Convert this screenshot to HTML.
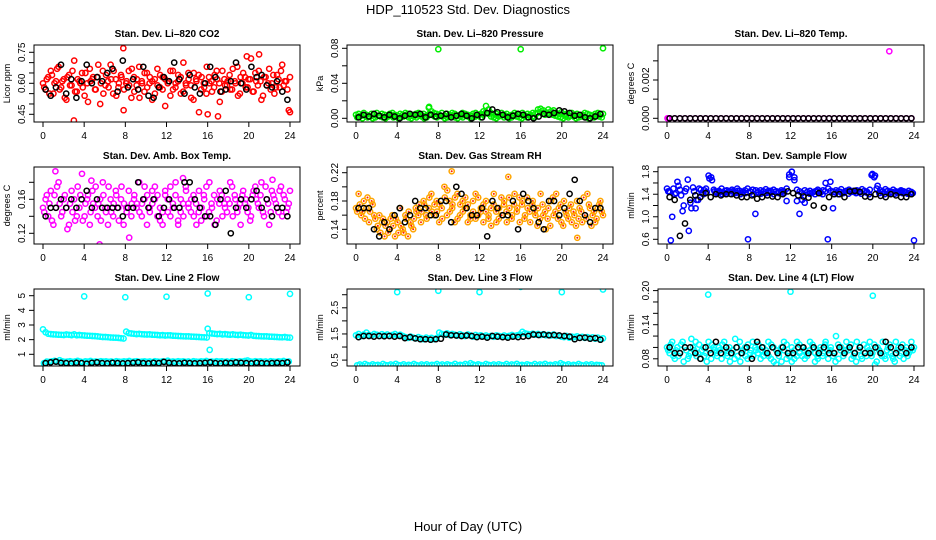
<!DOCTYPE html>
<html><head><meta charset="utf-8"><style>
body{margin:0;background:#fff;}
svg{display:block;font-family:"Liberation Sans",sans-serif;}
</style></head><body>
<svg id="chart" width="936" height="540" viewBox="0 0 936 540" xmlns="http://www.w3.org/2000/svg">
<text x="468" y="14" text-anchor="middle" font-size="13">HDP_110523  Std. Dev. Diagnostics</text>
<text x="468" y="531" text-anchor="middle" font-size="13">Hour of Day (UTC)</text>
</svg>
<script>
// ---- data ----
const xTicks = [0,4,8,12,16,20,24];
const co2Red1 = [0.60,0.57,0.63,0.66,0.55,0.61,0.68,0.58,0.62,0.52,0.64,0.59,0.71,0.56,0.61,0.65,0.54,0.60,0.67,0.62,0.57,0.63,0.50,0.66,0.59,0.61,0.69,0.55,0.62,0.58,0.64,0.47,0.60,0.66,0.53,0.63,0.59,0.68,0.61,0.56,0.65,0.60,0.52,0.62,0.67,0.58,0.63,0.49,0.61,0.66,0.57,0.60,0.64,0.55,0.70,0.59,0.62,0.53,0.65,0.61,0.46,0.63,0.58,0.68,0.60,0.56,0.64,0.62,0.51,0.66,0.59,0.61,0.57,0.67,0.60,0.54,0.63,0.65,0.58,0.62,0.72,0.56,0.61,0.66,0.52,0.63,0.59,0.67,0.60,0.55,0.64,0.58,0.69,0.61,0.57,0.63];
const co2Red2 = [0.58,0.62,0.55,0.64,0.60,0.67,0.57,0.61,0.53,0.63,0.59,0.66,0.56,0.62,0.60,0.58,0.65,0.51,0.61,0.63,0.57,0.69,0.60,0.55,0.64,0.58,0.62,0.66,0.54,0.60,0.63,0.57,0.61,0.59,0.67,0.56,0.62,0.53,0.60,0.65,0.58,0.63,0.61,0.55,0.59,0.64,0.57,0.62,0.60,0.54,0.66,0.58,0.61,0.63,0.56,0.60,0.65,0.59,0.52,0.62,0.64,0.57,0.60,0.55,0.63,0.61,0.58,0.66,0.60,0.56,0.62,0.59,0.64,0.57,0.61,0.68,0.55,0.60,0.63,0.58,0.62,0.56,0.65,0.59,0.61,0.54,0.63,0.60,0.57,0.64,0.58,0.62,0.66,0.59,0.61,0.47];
const co2Black = [0.57,0.54,0.58,0.69,0.55,0.62,0.53,0.61,0.69,0.60,0.63,0.61,0.65,0.67,0.56,0.71,0.58,0.62,0.57,0.68,0.54,0.53,0.58,0.63,0.61,0.70,0.62,0.55,0.64,0.58,0.55,0.60,0.68,0.63,0.56,0.57,0.61,0.70,0.60,0.57,0.68,0.63,0.64,0.59,0.58,0.61,0.56,0.52];
const co2OutT = [3.0,7.8,16.0,17.0,19.8,21.0,24.0];
const co2OutV = [0.42,0.77,0.45,0.44,0.73,0.74,0.46];

const presGreen1 = [0.004,0.005,0.003,0.006,0.004,0.002,0.005,0.004,0.006,0.003,0.005,0.004,0.002,0.005,0.006,0.004,0.003,0.005,0.004,0.006,0.005,0.003,0.004,0.005,0.006,0.004,0.005,0.003,0.012,0.008,0.006,0.005,0.004,0.006,0.003,0.005,0.004,0.006,0.005,0.003,0.004,0.006,0.005,0.004,0.003,0.005,0.006,0.004,0.005,0.008,0.014,0.010,0.006,0.004,0.005,0.003,0.006,0.004,0.005,0.003,0.004,0.006,0.005,0.004,0.006,0.003,0.005,0.004,0.006,0.005,0.010,0.011,0.009,0.007,0.010,0.008,0.009,0.006,0.005,0.007,0.004,0.005,0.003,0.006,0.004,0.005,0.003,0.004,0.006,0.005,0.004,0.003,0.005,0.006,0.004,0.005];
const presGreen2 = [0.001,0.002,0.000,0.003,0.001,0.002,0.000,0.001,0.003,0.002,0.001,0.000,0.002,0.003,0.001,0.002,0.000,0.001,0.002,0.003,0.001,0.000,0.002,0.001,0.003,0.002,0.000,0.001,0.005,0.004,0.002,0.001,0.003,0.002,0.000,0.001,0.002,0.003,0.001,0.000,0.002,0.001,0.003,0.002,0.000,0.001,0.002,0.003,0.001,0.004,0.007,0.005,0.002,0.001,0.000,0.002,0.003,0.001,0.002,0.000,0.001,0.003,0.002,0.001,0.000,0.002,0.001,0.003,0.002,0.001,0.006,0.007,0.005,0.004,0.006,0.005,0.004,0.003,0.002,0.001,0.000,0.002,0.001,0.003,0.002,0.000,0.001,0.002,0.003,0.001,0.000,0.002,0.001,0.003,0.002,0.001];
const presBlack = [0.001,0.004,0.002,0.005,0.003,0.001,0.004,0.002,0.000,0.003,0.005,0.004,0.005,0.001,0.004,0.002,0.003,0.005,0.001,0.003,0.005,0.003,0.000,0.004,0.001,0.006,0.010,0.007,0.004,0.001,0.003,0.005,0.004,0.001,0.000,0.002,0.005,0.004,0.006,0.009,0.008,0.006,0.003,0.004,0.001,0.000,0.002,0.005];
const presOutT = [7.1,8.0,16.0,24.0];
const presOutV = [0.013,0.079,0.079,0.080];

const tempMag = [0,0,0,0,0,0,0,0,0,0,0,0,0,0,0,0,0,0,0,0,0,0,0,0,0,0,0,0,0,0,0,0,0,0,0,0,0,0,0,0,0,0,0,0,0,0,0,0];
const tempBlack = [0,0,0,0,0,0,0,0,0,0,0,0,0,0,0,0,0,0,0,0,0,0,0,0,0,0,0,0,0,0,0,0,0,0,0,0,0,0,0,0,0,0,0,0,0,0,0,0];
const tempOutT = [0.05,0.1,21.6];
const tempOutV = [0,0,0.0035];

const boxMag1 = [0.15,0.16,0.14,0.17,0.13,0.15,0.18,0.14,0.16,0.15,0.13,0.17,0.16,0.14,0.15,0.19,0.14,0.16,0.13,0.17,0.15,0.14,0.16,0.18,0.15,0.13,0.16,0.14,0.17,0.15,0.16,0.13,0.15,0.17,0.14,0.16,0.15,0.18,0.14,0.16,0.13,0.15,0.17,0.16,0.14,0.15,0.13,0.17,0.16,0.14,0.15,0.18,0.13,0.16,0.14,0.17,0.15,0.16,0.14,0.13,0.17,0.15,0.16,0.14,0.18,0.15,0.13,0.16,0.17,0.14,0.15,0.16,0.18,0.14,0.16,0.15,0.13,0.17,0.16,0.15,0.14,0.17,0.16,0.15,0.18,0.14,0.16,0.13,0.17,0.16,0.15,0.17,0.14,0.16,0.15,0.17];
const boxMag2 = [0.145,0.165,0.155,0.135,0.165,0.175,0.155,0.145,0.165,0.125,0.155,0.145,0.135,0.175,0.165,0.135,0.155,0.165,0.145,0.155,0.175,0.155,0.135,0.165,0.145,0.175,0.145,0.155,0.165,0.135,0.175,0.155,0.145,0.115,0.155,0.165,0.155,0.145,0.155,0.175,0.165,0.145,0.155,0.175,0.165,0.135,0.145,0.165,0.145,0.175,0.155,0.165,0.135,0.145,0.155,0.175,0.155,0.145,0.165,0.155,0.145,0.135,0.165,0.175,0.145,0.155,0.165,0.135,0.155,0.165,0.155,0.145,0.155,0.175,0.165,0.145,0.155,0.165,0.155,0.145,0.135,0.165,0.175,0.155,0.165,0.145,0.175,0.155,0.145,0.165,0.155,0.145,0.175,0.165,0.145,0.155];
const boxBlack = [0.14,0.15,0.15,0.16,0.15,0.16,0.15,0.16,0.17,0.15,0.16,0.15,0.15,0.15,0.15,0.14,0.15,0.15,0.18,0.16,0.15,0.16,0.14,0.15,0.16,0.15,0.15,0.18,0.18,0.16,0.15,0.14,0.14,0.13,0.16,0.17,0.12,0.15,0.16,0.15,0.16,0.17,0.15,0.16,0.14,0.15,0.15,0.14];
const boxOutT = [1.2,5.5,4.7,13.6,22.3];
const boxOutV = [0.193,0.107,0.182,0.185,0.183];

const rhOrange1 = [0.17,0.19,0.16,0.18,0.17,0.15,0.18,0.16,0.14,0.16,0.15,0.13,0.15,0.14,0.16,0.13,0.15,0.17,0.14,0.16,0.13,0.15,0.14,0.17,0.16,0.15,0.18,0.16,0.17,0.19,0.16,0.18,0.15,0.17,0.20,0.16,0.18,0.17,0.15,0.19,0.16,0.18,0.17,0.15,0.16,0.18,0.19,0.16,0.17,0.15,0.18,0.16,0.17,0.19,0.15,0.17,0.16,0.18,0.15,0.17,0.16,0.19,0.17,0.15,0.18,0.16,0.17,0.15,0.18,0.16,0.17,0.19,0.16,0.14,0.17,0.18,0.16,0.19,0.17,0.15,0.18,0.16,0.17,0.15,0.16,0.18,0.17,0.15,0.16,0.19,0.17,0.16,0.15,0.17,0.18,0.16];
const rhOrange2 = [0.165,0.175,0.165,0.155,0.185,0.165,0.175,0.155,0.145,0.135,0.155,0.145,0.135,0.155,0.145,0.155,0.135,0.145,0.135,0.155,0.165,0.145,0.155,0.165,0.175,0.165,0.175,0.155,0.185,0.165,0.175,0.165,0.175,0.155,0.185,0.195,0.165,0.175,0.185,0.155,0.175,0.165,0.185,0.175,0.155,0.165,0.155,0.185,0.165,0.175,0.165,0.155,0.145,0.175,0.165,0.155,0.185,0.175,0.165,0.185,0.155,0.175,0.165,0.185,0.175,0.155,0.185,0.165,0.175,0.165,0.145,0.155,0.175,0.165,0.155,0.145,0.185,0.165,0.155,0.175,0.145,0.165,0.155,0.175,0.165,0.145,0.155,0.165,0.185,0.155,0.175,0.145,0.165,0.155,0.175,0.165];
const rhBlack = [0.17,0.17,0.17,0.14,0.13,0.15,0.14,0.16,0.17,0.15,0.16,0.18,0.17,0.17,0.16,0.16,0.18,0.18,0.15,0.20,0.19,0.17,0.16,0.16,0.17,0.13,0.18,0.17,0.16,0.16,0.18,0.14,0.19,0.18,0.17,0.15,0.14,0.18,0.18,0.16,0.17,0.19,0.21,0.18,0.16,0.15,0.17,0.17];
const rhOutT = [9.3,14.8,21.5];
const rhOutV = [0.222,0.214,0.128];

const flowBlue1 = [1.50,1.45,1.00,1.40,1.62,1.48,1.10,1.45,1.66,1.25,1.52,1.15,1.30,1.48,1.40,1.50,1.73,1.70,1.48,1.44,1.46,1.50,1.42,1.47,1.45,1.48,1.44,1.50,1.46,1.43,1.47,1.50,1.45,1.48,1.05,1.44,1.47,1.45,1.49,1.43,1.46,1.48,1.45,1.44,1.47,1.45,1.50,1.75,1.80,1.70,1.48,1.45,1.30,1.47,1.44,1.46,1.43,1.45,1.48,1.44,1.47,1.60,1.50,1.46,1.44,1.47,1.45,1.49,1.43,1.46,1.48,1.45,1.44,1.47,1.45,1.49,1.46,1.44,1.48,1.76,1.73,1.55,1.47,1.45,1.49,1.46,1.43,1.48,1.45,1.44,1.47,1.45,1.43,1.46,1.44,0.58];
const flowBlue2 = [1.45,0.58,1.50,1.42,1.55,1.38,1.20,1.50,0.75,1.15,1.45,1.30,1.50,1.42,1.47,1.44,1.68,1.65,1.45,1.42,1.44,1.40,1.46,1.43,1.41,1.45,1.42,1.46,1.40,1.44,1.42,0.60,1.44,1.40,1.47,1.43,1.41,1.45,1.42,1.46,1.43,1.40,1.45,1.42,1.44,1.42,1.28,1.70,1.80,1.65,1.28,1.05,1.42,1.25,1.44,1.41,1.43,1.40,1.45,1.42,1.40,1.45,0.60,1.62,1.15,1.43,1.40,1.44,1.42,1.45,1.41,1.44,1.46,1.42,1.44,1.41,1.45,1.43,1.40,1.74,1.70,1.50,1.42,1.44,1.40,1.45,1.42,1.44,1.41,1.43,1.45,1.42,1.44,1.41,1.43,1.42];
const flowBlack = [1.35,1.30,0.66,0.88,1.30,1.38,1.35,1.42,1.35,1.40,1.38,1.40,1.40,1.38,1.35,1.35,1.38,1.32,1.35,1.38,1.36,1.35,1.40,1.45,1.42,1.38,1.36,1.34,1.20,1.42,1.16,1.35,1.40,1.40,1.35,1.45,1.46,1.44,1.36,1.35,1.40,1.37,1.35,1.40,1.38,1.35,1.35,1.40];

const l2Hi = [2.70,2.50,2.40,2.38,2.36,2.35,2.34,2.33,2.32,2.35,2.33,2.31,2.36,2.30,2.32,2.30,2.28,2.27,2.26,2.25,2.24,2.22,2.20,2.18,2.18,2.17,2.15,2.14,2.13,2.12,2.10,2.08,2.55,2.45,2.42,2.40,2.38,2.39,2.37,2.36,2.35,2.36,2.34,2.33,2.32,2.30,2.31,2.28,2.30,2.29,2.27,2.26,2.25,2.24,2.23,2.22,2.22,2.21,2.20,2.19,2.18,2.17,2.16,2.15,2.45,2.42,2.40,2.38,2.39,2.36,2.38,2.35,2.34,2.36,2.33,2.32,2.34,2.31,2.30,2.28,2.32,2.26,2.25,2.24,2.23,2.22,2.22,2.21,2.20,2.19,2.18,2.17,2.16,2.18,2.15,2.14];
const l2Lo = [0.38,0.50,0.48,0.52,0.55,0.50,0.60,0.52,0.48,0.50,0.53,0.49,0.51,0.55,0.50,0.47,0.52,0.50,0.54,0.49,0.51,0.48,0.53,0.50,0.52,0.49,0.51,0.47,0.53,0.50,0.48,0.52,0.50,0.54,0.49,0.51,0.53,0.48,0.50,0.52,0.49,0.51,0.47,0.53,0.50,0.48,0.52,0.50,0.56,0.49,0.51,0.48,0.53,0.50,0.52,0.49,0.51,0.47,0.53,0.50,0.48,0.52,0.50,0.54,0.49,0.51,0.48,0.53,0.50,0.52,0.49,0.51,0.47,0.53,0.50,0.48,0.52,0.50,0.54,0.58,0.51,0.48,0.53,0.50,0.52,0.49,0.51,0.47,0.53,0.50,0.48,0.52,0.50,0.54,0.49,0.51];
const l2Black = [0.40,0.45,0.50,0.42,0.40,0.38,0.42,0.40,0.36,0.42,0.45,0.40,0.38,0.42,0.40,0.38,0.40,0.42,0.45,0.40,0.38,0.42,0.40,0.48,0.42,0.40,0.38,0.42,0.40,0.38,0.40,0.42,0.45,0.40,0.38,0.42,0.40,0.44,0.42,0.40,0.38,0.42,0.40,0.38,0.40,0.42,0.40,0.45];
const l2OutT = [4.0,8.0,12.0,16.0,20.0,24.0,16.0,16.2,0.1];
const l2OutV = [4.95,4.90,4.93,5.15,4.90,5.12,2.75,1.30,0.40];

const l3Hi = [1.45,1.50,1.42,1.48,1.55,1.46,1.44,1.50,1.47,1.42,1.49,1.45,1.48,1.43,1.46,1.50,1.44,1.47,1.42,1.38,1.35,1.40,1.36,1.33,1.38,1.34,1.30,1.36,1.32,1.35,1.30,1.34,1.55,1.50,1.48,1.52,1.46,1.50,1.47,1.44,1.49,1.45,1.42,1.48,1.44,1.40,1.46,1.42,1.45,1.41,1.44,1.40,1.43,1.39,1.45,1.42,1.40,1.44,1.41,1.43,1.46,1.42,1.45,1.48,1.58,1.52,1.50,1.48,1.51,1.47,1.50,1.46,1.49,1.45,1.47,1.44,1.48,1.42,1.45,1.40,1.38,1.42,1.36,1.40,1.38,1.41,1.36,1.39,1.35,1.38,1.34,1.37,1.32,1.36,1.30,1.33];
const l3Lo = [0.30,0.33,0.28,0.35,0.31,0.29,0.34,0.30,0.32,0.28,0.35,0.31,0.30,0.33,0.29,0.36,0.31,0.30,0.34,0.28,0.32,0.30,0.35,0.31,0.29,0.33,0.30,0.34,0.28,0.32,0.31,0.35,0.30,0.33,0.29,0.34,0.31,0.30,0.36,0.29,0.32,0.30,0.35,0.31,0.38,0.33,0.30,0.34,0.31,0.29,0.35,0.32,0.30,0.33,0.28,0.34,0.31,0.30,0.35,0.29,0.33,0.31,0.36,0.30,0.32,0.29,0.34,0.31,0.30,0.35,0.29,0.33,0.31,0.36,0.30,0.32,0.29,0.34,0.31,0.38,0.33,0.30,0.34,0.28,0.32,0.30,0.35,0.31,0.29,0.33,0.30,0.34,0.28,0.32,0.31,0.30];
const l3Black = [1.38,1.42,1.42,1.40,1.42,1.41,1.42,1.40,1.42,1.34,1.38,1.33,1.30,1.30,1.28,1.30,1.32,1.48,1.45,1.44,1.42,1.44,1.42,1.38,1.40,1.36,1.42,1.40,1.38,1.36,1.40,1.38,1.40,1.42,1.48,1.46,1.48,1.45,1.46,1.44,1.42,1.40,1.30,1.35,1.36,1.32,1.34,1.28];
const l3OutT = [4.0,8.0,12.0,16.0,20.0,24.0];
const l3OutV = [3.10,3.15,3.10,3.30,3.10,3.20];

const l4Cyan1 = [0.10,0.09,0.11,0.08,0.10,0.09,0.11,0.10,0.08,0.09,0.10,0.11,0.09,0.08,0.10,0.09,0.11,0.08,0.10,0.09,0.10,0.08,0.11,0.09,0.10,0.09,0.08,0.10,0.11,0.09,0.10,0.08,0.09,0.11,0.10,0.09,0.08,0.10,0.09,0.11,0.08,0.10,0.07,0.09,0.10,0.11,0.08,0.09,0.10,0.08,0.11,0.09,0.10,0.08,0.09,0.11,0.10,0.09,0.08,0.10,0.09,0.11,0.08,0.10,0.09,0.12,0.08,0.10,0.09,0.11,0.10,0.08,0.09,0.11,0.10,0.08,0.09,0.10,0.11,0.09,0.07,0.10,0.09,0.11,0.08,0.10,0.09,0.08,0.11,0.10,0.09,0.08,0.10,0.09,0.11,0.10];
const l4Cyan2 = [0.095,0.105,0.085,0.095,0.085,0.105,0.075,0.095,0.085,0.115,0.095,0.085,0.105,0.095,0.085,0.075,0.095,0.105,0.095,0.085,0.095,0.105,0.095,0.085,0.075,0.095,0.115,0.085,0.075,0.095,0.085,0.105,0.095,0.085,0.095,0.105,0.095,0.085,0.095,0.085,0.105,0.075,0.095,0.085,0.075,0.095,0.105,0.085,0.075,0.095,0.085,0.105,0.085,0.095,0.085,0.095,0.105,0.075,0.085,0.095,0.085,0.105,0.095,0.095,0.085,0.075,0.105,0.095,0.085,0.095,0.095,0.105,0.085,0.075,0.095,0.085,0.105,0.085,0.095,0.085,0.105,0.075,0.095,0.085,0.085,0.095,0.105,0.085,0.075,0.095,0.085,0.105,0.095,0.085,0.095,0.095];
const l4Black = [0.10,0.09,0.09,0.10,0.10,0.09,0.08,0.10,0.09,0.11,0.09,0.10,0.09,0.10,0.09,0.10,0.08,0.11,0.10,0.09,0.10,0.09,0.10,0.09,0.09,0.10,0.10,0.09,0.10,0.09,0.10,0.09,0.09,0.10,0.09,0.10,0.09,0.10,0.09,0.09,0.10,0.09,0.11,0.10,0.09,0.10,0.09,0.10];
const l4OutT = [4.0,12.0,20.0];
const l4OutV = [0.193,0.198,0.191];

// ---- layout ----
const svg = document.getElementById('chart');
const NS = 'http://www.w3.org/2000/svg';
const colX = [34,347,658];
const rowY = [45,167,289];
const BW = 266, BH = 77;

function times(n, start, end){ const a=[]; for(let i=0;i<n;i++) a.push(start+(end-start)*i/(n-1)); return a; }

const panels = [
 {key:'co2',title:'Stan. Dev. Li\u2013820 CO2',unit:'Licor ppm',c:0,r:0,ym:[0.45,114.3,0.75,52.3],ticks:[0.45,0.5,0.55,0.6,0.65,0.7,0.75],labels:['0.45','0.60','0.75'],
  series:[[co2Red1,'#ff0000',0],[co2Red2,'#ff0000',0.12],[co2OutV,'#ff0000',co2OutT],[co2Black,'#000',0.25]]},
 {key:'pressure',title:'Stan. Dev. Li\u2013820 Pressure',unit:'kPa',c:1,r:0,ym:[0,118.3,0.08,48.3],ticks:[0,0.02,0.04,0.06,0.08],labels:['0.00','0.04','0.08'],
  series:[[presGreen1,'#00ee00',0],[presGreen2,'#00ee00',0.12],[presOutV,'#00ee00',presOutT],[presBlack,'#000',0.25]]},
 {key:'temp',title:'Stan. Dev. Li\u2013820 Temp.',unit:'degrees C',c:2,r:0,ym:[0,118.3,0.002,80],ticks:[0,0.001,0.002,0.003],labels:['0.000','0.002'],
  series:[[tempMag,'#ff00ff',0.25],[tempOutV,'#ff00ff',tempOutT],[tempBlack,'#000',0.25]]},
 {key:'ambbox',title:'Stan. Dev. Amb. Box Temp.',unit:'degrees C',c:0,r:1,ym:[0.12,233.3,0.16,199.3],ticks:[0.12,0.14,0.16,0.18],labels:['0.12','0.16'],
  series:[[boxMag1,'#ff00ff',0],[boxMag2,'#ff00ff',0.12],[boxOutV,'#ff00ff',boxOutT],[boxBlack,'#000',0.25]]},
 {key:'rh',title:'Stan. Dev. Gas Stream RH',unit:'percent',c:1,r:1,ym:[0.14,229.3,0.22,172.7],ticks:[0.14,0.16,0.18,0.20,0.22],labels:['0.14','0.18','0.22'],
  series:[[rhOrange1,'#ffa500',0],[rhOrange2,'#ffa500',0.12],[rhOutV,'#ffa500',rhOutT],[rhBlack,'#000',0.25]]},
 {key:'sampleflow',title:'Stan. Dev. Sample Flow',unit:'ml/min',c:2,r:1,ym:[0.6,239.3,1.8,171.7],ticks:[0.6,0.8,1.0,1.2,1.4,1.6,1.8],labels:['0.6','1.0','1.4','1.8'],
  series:[[flowBlue1,'#0000ff',0],[flowBlue2,'#0000ff',0.12],[flowBlack,'#000',0.25]]},
 {key:'line2',title:'Stan. Dev. Line 2 Flow',unit:'ml/min',c:0,r:2,ym:[1,354.3,5,295.7],ticks:[1,2,3,4,5],labels:['1','2','3','4','5'],
  series:[[l2Hi,'#00ffff',0],[l2Lo,'#00ffff',0.12],[l2OutV,'#00ffff',l2OutT],[l2Black,'#000',0.25]]},
 {key:'line3',title:'Stan. Dev. Line 3 Flow',unit:'ml/min',c:1,r:2,ym:[0.5,360.1,2.5,307.8],ticks:[0.5,1.0,1.5,2.0,2.5,3.0],labels:['0.5','1.5','2.5'],
  series:[[l3Hi,'#00ffff',0],[l3Lo,'#00ffff',0.12],[l3OutV,'#00ffff',l3OutT],[l3Black,'#000',0.25]]},
 {key:'line4',title:'Stan. Dev. Line 4 (LT) Flow',unit:'ml/min',c:2,r:2,ym:[0.08,358.8,0.20,290.6],ticks:[0.08,0.10,0.12,0.14,0.16,0.18,0.20],labels:['0.08','0.14','0.20'],
  series:[[l4Cyan1,'#00ffff',0],[l4Cyan2,'#00ffff',0.12],[l4OutV,'#00ffff',l4OutT],[l4Black,'#000',0.25]]}
];

function mk(tag, attrs, parent){ const e=document.createElementNS(NS,tag); for(const k in attrs) e.setAttribute(k,attrs[k]); (parent||svg).appendChild(e); return e; }

panels.forEach(p=>{
  const bx=colX[p.c], by=rowY[p.r];
  const g = mk('g',{});
  
  
  const xs = t => bx+9+t/24*247;
  const [v1,p1,v2,p2] = p.ym;
  const ys = v => p1+(v-v1)*(p2-p1)/(v2-v1);
  const clip = 'clip-'+p.key;
  const cp = mk('clipPath',{id:clip},g); mk('rect',{x:bx,y:by,width:BW,height:BH},cp);
  const pts = mk('g',{'clip-path':'url(#'+clip+')'},g);
  
  
  p.series.forEach(([vals,col,tspec])=>{
    let ts;
    if (Array.isArray(tspec)) ts = tspec;
    else if (tspec === 0.25) ts = times(vals.length, 0.25, 23.75);
    else if (tspec === 0.12) ts = times(vals.length, 0.12, 23.88);
    else ts = times(vals.length, 0, 24);
    vals.forEach((v,i)=>{
      const c = mk('circle',{cx:xs(ts[i]).toFixed(1),cy:ys(v).toFixed(1),r:2.6,fill:'none',stroke:col,'stroke-width':1.5},pts);
      
      
      if(col==='#ffa500'){
        const d=mk('circle',{cx:xs(ts[i]).toFixed(1),cy:ys(v).toFixed(1),r:1,fill:'#ff2000'},pts);
        
        
      }
    });
  });
  const box = mk('rect',{x:bx,y:by,width:BW,height:BH,fill:'none',stroke:'#000','stroke-width':1},g);
  
  
  const title = mk('text',{x:bx+BW/2,y:by-8,'text-anchor':'middle','font-size':10,'font-weight':'bold'},g);
  title.textContent = p.title;
  
  
  const xa = mk('g',{},g);
  
  
  mk('line',{x1:xs(0),x2:xs(24),y1:by+BH,y2:by+BH,stroke:'#000'},xa);
  xTicks.forEach(t=>{
    mk('line',{x1:xs(t),x2:xs(t),y1:by+BH,y2:by+BH+5,stroke:'#000'},xa);
    const tl = mk('text',{x:xs(t),y:by+BH+17,'text-anchor':'middle','font-size':10},xa);
    tl.textContent = t;
    
    
  });
  const ya = mk('g',{},g);
  
  
  mk('line',{x1:bx,x2:bx,y1:ys(p.ticks[0]),y2:ys(p.ticks[p.ticks.length-1]),stroke:'#000'},ya);
  p.ticks.forEach(v=>{ mk('line',{x1:bx-5,x2:bx,y1:ys(v),y2:ys(v),stroke:'#000'},ya); });
  p.labels.forEach(s=>{
    const y=ys(parseFloat(s));
    const tl = mk('text',{x:bx-9,y:y,'text-anchor':'middle','font-size':10,transform:'rotate(-90 '+(bx-9)+' '+y+')'},ya);
    tl.textContent = s;
    
    
  });
  const yc = by+BH/2;
  const ut = mk('text',{x:bx-24,y:yc,'text-anchor':'middle','font-size':9,transform:'rotate(-90 '+(bx-24)+' '+yc+')'},g);
  ut.textContent = p.unit;
  
  
});
</script>
</body></html>
